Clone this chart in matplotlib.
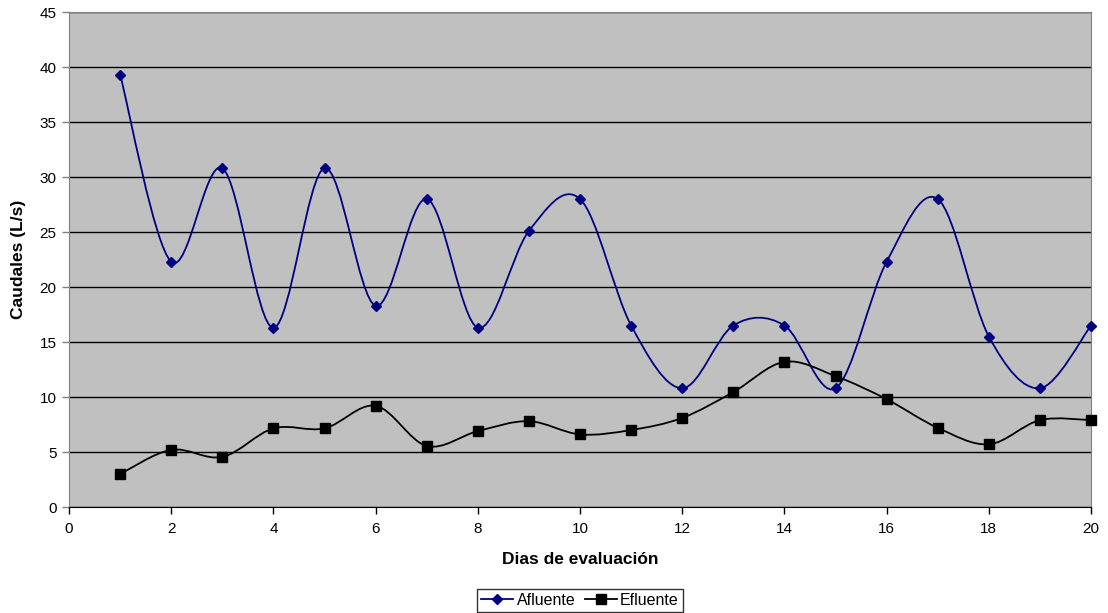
import numpy as np
import matplotlib
matplotlib.use("Agg")
import matplotlib.pyplot as plt
from matplotlib.path import Path
from matplotlib.patches import PathPatch
from matplotlib.lines import Line2D

plt.rcParams['font.family'] = ['Liberation Sans', 'DejaVu Sans']

dias = list(range(1, 21))
afluente = [39.3, 22.3, 30.8, 16.3, 30.8, 18.3, 28.0, 16.3, 25.1, 28.0,
            16.5, 10.8, 16.5, 16.5, 10.8, 22.3, 28.0, 15.5, 10.8, 16.5]
efluente = [3.0, 5.2, 4.55, 7.15, 7.15, 9.2, 5.55, 6.9, 7.8, 6.6,
            7.0, 8.1, 10.45, 13.2, 11.9, 9.8, 7.2, 5.7, 7.9, 7.9]

color_af = '#000080'
color_ef = '#000000'


def smooth_path(x, y):
    # Excel-style smoothing: cubic Bezier with Catmull-Rom tangents
    x = np.asarray(x, float)
    y = np.asarray(y, float)
    n = len(x)
    verts = [(x[0], y[0])]
    codes = [Path.MOVETO]
    for i in range(n - 1):
        i0 = max(i - 1, 0)
        i3 = min(i + 2, n - 1)
        c1 = (x[i] + (x[i + 1] - x[i0]) / 6, y[i] + (y[i + 1] - y[i0]) / 6)
        c2 = (x[i + 1] - (x[i3] - x[i]) / 6, y[i + 1] - (y[i3] - y[i]) / 6)
        verts += [c1, c2, (x[i + 1], y[i + 1])]
        codes += [Path.CURVE4] * 3
    return Path(verts, codes)


fig = plt.figure(figsize=(11.08, 6.13), dpi=100)
ax = fig.add_axes([0.0623, 0.1729, 0.9224, 0.8075])
ax.set_facecolor('#C0C0C0')

for xs, ys, c in [(dias, afluente, color_af), (dias, efluente, color_ef)]:
    ax.add_patch(PathPatch(smooth_path(xs, ys), facecolor='none',
                           edgecolor=c, lw=1.3, zorder=3))

ax.plot(dias, afluente, linestyle='none', marker='D', color=color_af,
        markersize=5, zorder=4, clip_on=False)
ax.plot(dias, efluente, linestyle='none', marker='s', color=color_ef,
        markersize=7, zorder=4, clip_on=False)

ax.set_xlim(0, 20)
ax.set_ylim(0, 45)
ax.set_xticks(range(0, 21, 2))
ax.set_yticks(range(0, 46, 5))
ax.yaxis.grid(True, color='black', lw=1)
ax.set_axisbelow(True)
ax.tick_params(direction='out', length=5, width=1, labelsize=11,
               colors='black')
ax.tick_params(axis='x', pad=6)
ax.tick_params(axis='y', color='#808080', pad=4)
ax.spines['left'].set_color('#808080')
ax.spines['right'].set_color('#808080')
ax.spines['top'].set_color('#808080')
ax.spines['bottom'].set_color('black')

ax.set_xlabel('Dias de evaluación', fontsize=12.5, fontweight='bold',
              labelpad=11)
ax.set_ylabel('Caudales (L/s)', fontsize=12.5, fontweight='bold',
              labelpad=10)

handles = [
    Line2D([], [], color=color_af, lw=1.3, marker='D', markersize=5),
    Line2D([], [], color=color_ef, lw=1.3, marker='s', markersize=7),
]
leg = fig.legend(handles, ['Afluente', 'Efluente'], loc='upper center',
                 bbox_to_anchor=(0.5235, 0.0392), ncol=2, fontsize=11.5,
                 frameon=True, fancybox=False, edgecolor='black',
                 handlelength=2.0, handletextpad=0.2, columnspacing=0.6,
                 borderpad=0.25, borderaxespad=0)
leg.get_frame().set_linewidth(1)

fig.savefig('out.png', dpi=100)
